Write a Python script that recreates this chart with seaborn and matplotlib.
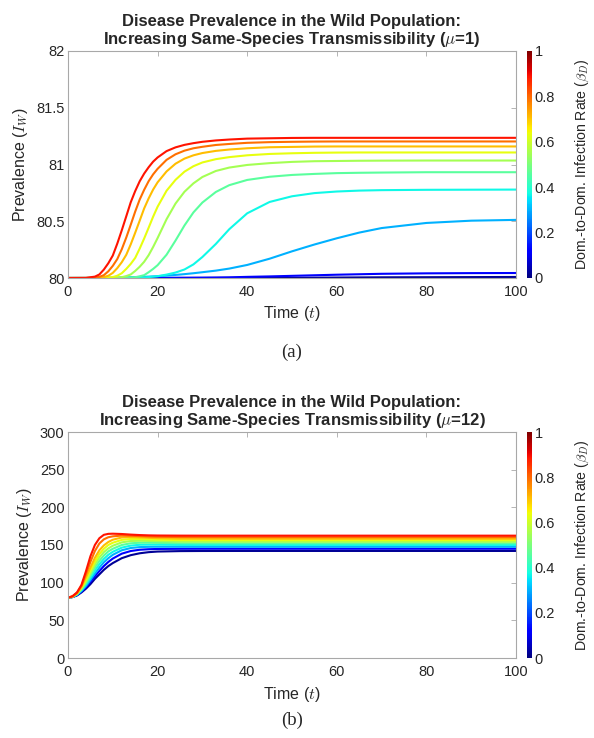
import numpy as np
import pandas as pd
import matplotlib
matplotlib.use("Agg")
import matplotlib.pyplot as plt
import seaborn as sns
from matplotlib.colors import Normalize
from matplotlib.cm import ScalarMappable

# ---------------- data ----------------
beta_D = [0.0, 0.1, 0.2, 0.3, 0.4, 0.5, 0.6, 0.7, 0.8, 0.9]

# panel (a): mu = 1
t_a = [0, 4, 6, 7, 8, 9, 10, 11, 12, 13, 14, 15, 16, 17, 18, 19, 20, 22, 24, 26, 28, 30,
       33, 36, 40, 45, 50, 55, 60, 65, 70, 80, 90, 100]
a_b00 = [80.0, 80.0, 80.0, 80.0, 80.0, 80.0, 80.0, 80.0, 80.0, 80.0, 80.0, 80.0, 80.0, 80.0, 80.0, 80.0, 80.0, 80.0, 80.0, 80.0, 80.0, 80.0,
         80.0004, 80.0007, 80.001, 80.0015, 80.002, 80.003, 80.004, 80.005, 80.006, 80.007, 80.008, 80.009]
a_b01 = [80.0, 80.0, 80.0, 80.0, 80.0, 80.0, 80.0, 80.0, 80.0, 80.0, 80.0, 80.0, 80.0005, 80.0005, 80.001, 80.001, 80.001, 80.0015, 80.002, 80.0025, 80.003, 80.0035,
         80.0045, 80.006, 80.010, 80.014, 80.019, 80.024, 80.029, 80.033, 80.037, 80.041, 80.043, 80.044]
a_b02 = [80.0, 80.0, 80.0005, 80.001, 80.001, 80.0015, 80.002, 80.003, 80.004, 80.005, 80.006, 80.0075, 80.009, 80.0105, 80.012, 80.014, 80.016, 80.021, 80.027, 80.034, 80.042, 80.051,
         80.065, 80.083, 80.115, 80.170, 80.235, 80.295, 80.350, 80.400, 80.440, 80.485, 80.505, 80.512]
a_b03 = [80.0, 80.0, 80.0, 80.0, 80.0, 80.0, 80.0, 80.0, 80.001, 80.001, 80.002, 80.002, 80.003, 80.005, 80.008, 80.012, 80.016, 80.030, 80.048, 80.075, 80.120, 80.185,
         80.300, 80.430, 80.570, 80.670, 80.720, 80.748, 80.762, 80.770, 80.774, 80.777, 80.778, 80.779]
a_b04 = [80.0, 80.0, 80.0, 80.0, 80.0, 80.0, 80.0, 80.0, 80.0, 80.001, 80.003, 80.007, 80.015, 80.025, 80.051, 80.080, 80.113, 80.205, 80.330, 80.463, 80.578, 80.665,
         80.758, 80.818, 80.864, 80.892, 80.908, 80.917, 80.924, 80.927, 80.929, 80.932, 80.932, 80.932]
a_b05 = [80.0, 80.0, 80.0, 80.0, 80.0, 80.0, 80.001, 80.003, 80.007, 80.017, 80.031, 80.062, 80.099, 80.143, 80.201, 80.273, 80.352, 80.518, 80.656, 80.760, 80.834, 80.890,
         80.943, 80.973, 80.996, 81.012, 81.023, 81.029, 81.031, 81.033, 81.034, 81.035, 81.035, 81.035]
a_b06 = [80.0, 80.0, 80.0, 80.0, 80.001, 80.003, 80.008, 80.020, 80.042, 80.080, 80.124, 80.177, 80.259, 80.348, 80.443, 80.540, 80.628, 80.769, 80.865, 80.937, 80.985, 81.018,
         81.047, 81.065, 81.081, 81.093, 81.099, 81.103, 81.105, 81.106, 81.106, 81.106, 81.106, 81.106]
a_b07 = [80.0, 80.0, 80.001, 80.002, 80.008, 80.020, 80.045, 80.087, 80.139, 80.204, 80.296, 80.399, 80.505, 80.613, 80.701, 80.779, 80.843, 80.939, 81.007, 81.052, 81.081, 81.101,
         81.120, 81.132, 81.143, 81.152, 81.155, 81.158, 81.159, 81.159, 81.159, 81.159, 81.159, 81.159]
a_b08 = [80.0, 80.0, 80.003, 80.010, 80.025, 80.059, 80.107, 80.167, 80.253, 80.356, 80.469, 80.585, 80.691, 80.777, 80.853, 80.913, 80.962, 81.041, 81.090, 81.122, 81.143, 81.156,
         81.172, 81.181, 81.191, 81.197, 81.200, 81.202, 81.203, 81.203, 81.203, 81.203, 81.203, 81.203]
a_b09 = [80.0, 80.001, 80.012, 80.031, 80.074, 80.130, 80.198, 80.303, 80.420, 80.543, 80.667, 80.766, 80.852, 80.920, 80.976, 81.025, 81.062, 81.118, 81.151, 81.173, 81.188, 81.200,
         81.212, 81.220, 81.228, 81.231, 81.234, 81.235, 81.235, 81.235, 81.235, 81.235, 81.235, 81.235]

# panel (b): mu = 12
t_b = [0, 1, 2, 3, 4, 5, 6, 7, 8, 9, 10, 12, 14, 16, 18, 20, 25, 30, 40, 60, 80, 100]
b_b00 = [80, 80.8, 83.0, 87.0, 92.0, 98.0, 105.0, 111.0, 117.0, 122.0, 126.0, 132.5, 136.5, 139.0, 140.5, 141.3, 141.9, 142.05, 142.1, 142.1, 142.1, 142.1]
b_b01 = [80, 81.0, 83.5, 88.0, 94.0, 101.0, 108.5, 115.5, 122.0, 127.5, 132.0, 138.5, 142.0, 143.7, 144.4, 144.75, 144.95, 145.0, 145.0, 145.0, 145.0, 145.0]
b_b02 = [80, 81.1, 84.0, 89.0, 95.5, 103.5, 112.0, 120.0, 127.0, 132.5, 137.0, 143.0, 146.0, 147.2, 147.6, 147.7, 147.65, 147.6, 147.6, 147.6, 147.6, 147.6]
b_b03 = [80, 81.2, 84.4, 90.0, 97.5, 106.5, 116.0, 124.5, 131.5, 137.0, 141.0, 146.5, 149.2, 150.3, 150.5, 150.4, 150.1, 150.0, 150.0, 150.0, 150.0, 150.0]
b_b04 = [80, 81.3, 84.8, 91.0, 99.5, 109.5, 120.0, 129.0, 136.0, 141.5, 145.0, 150.0, 152.3, 153.0, 153.0, 152.8, 152.35, 152.2, 152.2, 152.2, 152.2, 152.2]
b_b05 = [80, 81.4, 85.2, 92.0, 101.5, 112.5, 124.0, 133.5, 140.5, 145.5, 149.0, 153.5, 155.3, 155.6, 155.4, 155.1, 154.5, 154.35, 154.3, 154.3, 154.3, 154.3]
b_b06 = [80, 81.5, 85.6, 93.2, 104.0, 116.0, 128.0, 138.0, 145.0, 150.0, 153.0, 156.8, 158.0, 157.9, 157.5, 157.1, 156.5, 156.35, 156.3, 156.3, 156.3, 156.3]
b_b07 = [80, 81.6, 86.0, 94.5, 107.0, 120.0, 133.0, 143.0, 149.5, 154.0, 157.0, 160.0, 160.5, 160.1, 159.5, 159.1, 158.5, 158.35, 158.3, 158.3, 158.3, 158.3]
b_b08 = [80, 81.8, 86.5, 95.7, 111.0, 127.5, 142.0, 152.0, 157.5, 160.3, 161.5, 162.5, 162.3, 161.8, 161.3, 160.9, 160.55, 160.45, 160.4, 160.4, 160.4, 160.4]
b_b09 = [80, 82.0, 87.0, 97.0, 115.0, 135.0, 150.0, 159.0, 163.5, 164.8, 165.0, 164.6, 163.8, 163.2, 162.8, 162.6, 162.45, 162.4, 162.4, 162.4, 162.4, 162.4]

series_a = [a_b00, a_b01, a_b02, a_b03, a_b04, a_b05, a_b06, a_b07, a_b08, a_b09]
series_b = [b_b00, b_b01, b_b02, b_b03, b_b04, b_b05, b_b06, b_b07, b_b08, b_b09]

yticks_a = [80, 80.5, 81, 81.5, 82]
yticklabels_a = ["80", "80.5", "81", "81.5", "82"]
yticks_b = [0, 50, 100, 150, 200, 250, 300]
xticks = [0, 20, 40, 60, 80, 100]
cbar_ticks = [0, 0.2, 0.4, 0.6, 0.8, 1]
cbar_ticklabels = ["0", "0.2", "0.4", "0.6", "0.8", "1"]

# ---------------- style ----------------
sns.set_theme(style="white")
plt.rcParams["font.family"] = ["Liberation Sans", "DejaVu Sans"]
plt.rcParams["mathtext.fontset"] = "cm"

cmap = plt.get_cmap("jet")
color_pos = [0.02, 0.12, 0.30, 0.37, 0.46, 0.55, 0.63, 0.71, 0.79, 0.89]
line_colors = [cmap(p) for p in color_pos]

W, H = 594, 738
fig = plt.figure(figsize=(W / 100, H / 100), dpi=100)

def box(x0, y0, x1, y1):
    return [x0 / W, 1 - y1 / H, (x1 - x0) / W, (y1 - y0) / H]

spine_col = "#a8a8a8"
txt_col = "#262626"

def make_panel(axrect, caxrect, t, series, ylim, yticks, yticklabels, mu, tag, tag_y):
    ax = fig.add_axes(axrect)
    rows = []
    for i, ys in enumerate(series):
        for tt, yy in zip(t, ys):
            rows.append({"t": tt, "v": yy, "beta": beta_D[i]})
    df = pd.DataFrame(rows)
    sns.lineplot(data=df, x="t", y="v", hue="beta", palette=line_colors,
                 legend=False, ax=ax, linewidth=1.5, estimator=None, sort=False)
    ax.set_xlim(0, 100)
    ax.set_ylim(*ylim)
    ax.set_xticks(xticks)
    ax.set_xticklabels([str(x) for x in xticks])
    ax.set_yticks(yticks)
    ax.set_yticklabels(yticklabels)
    ax.tick_params(direction="in", length=3.5, width=0.6, color=spine_col,
                   top=True, right=True, labelsize=10.5, labelcolor=txt_col)
    ax.tick_params(axis="x", pad=5)
    ax.tick_params(axis="y", pad=2.5)
    for s in ax.spines.values():
        s.set_color(spine_col)
        s.set_linewidth(0.8)
    ax.set_xlabel("Time ($t$)", fontsize=11.5, labelpad=4, color=txt_col)
    ax.set_ylabel("Prevalence ($I_W$)", fontsize=11.5, labelpad=4, color=txt_col)
    ax.set_title("Disease Prevalence in the Wild Population:\n"
                 "Increasing Same-Species Transmissibility ($\\mu$=%s)" % mu,
                 fontsize=12, fontweight="bold", pad=5, linespacing=1.1)
    cax = fig.add_axes(caxrect)
    sm = ScalarMappable(norm=Normalize(0, 1), cmap=cmap)
    cb = fig.colorbar(sm, cax=cax)
    cb.set_ticks(cbar_ticks)
    cb.set_ticklabels(cbar_ticklabels)
    cb.outline.set_visible(False)
    cax.tick_params(length=0, labelsize=10.5, pad=2, labelcolor=txt_col)
    fig.text(582 / W, caxrect[1] + caxrect[3] / 2,
             "Dom.-to-Dom. Infection Rate ($\\beta_D$)", rotation=90,
             ha="center", va="center", fontsize=10.2, color=txt_col)
    fig.text(292 / W, 1 - tag_y / H, tag, ha="center", va="center",
             fontsize=13.5, family=["Liberation Serif", "DejaVu Serif"])
    return ax

make_panel(box(68, 51, 516, 278), box(527, 51, 532, 278), t_a, series_a,
           (80, 82), yticks_a, yticklabels_a, "1", "(a)", 352)
make_panel(box(68, 432, 516, 658), box(527, 432, 532, 658), t_b, series_b,
           (0, 300), yticks_b, [str(v) for v in yticks_b], "12", "(b)", 720)

fig.savefig("out.png", dpi=100)
